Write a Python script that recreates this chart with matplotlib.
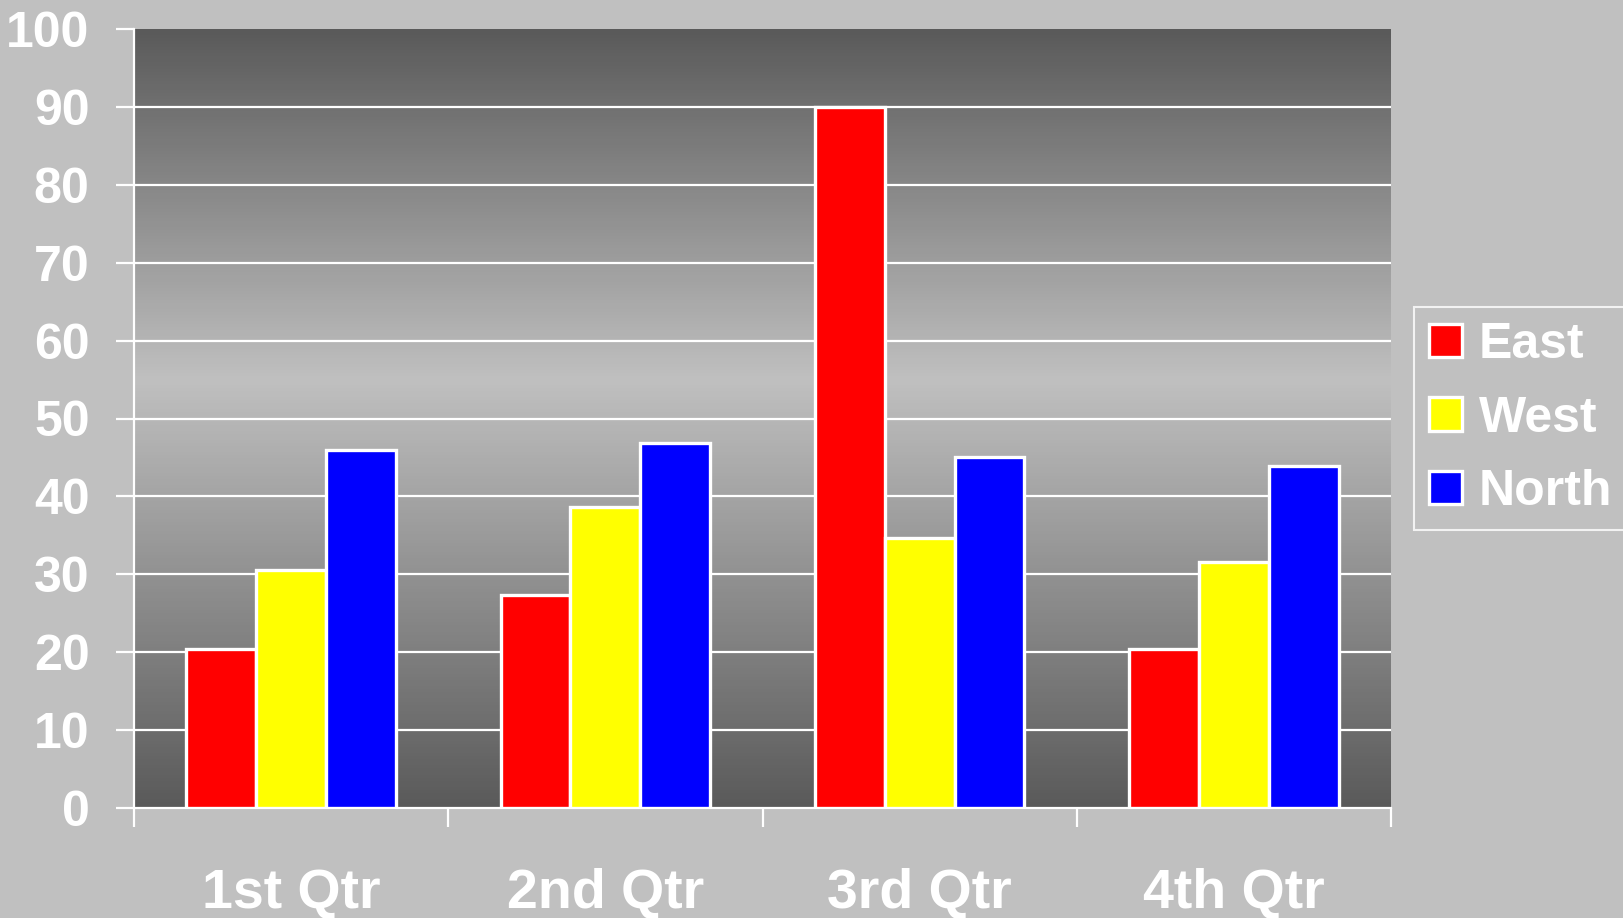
import numpy as np
import matplotlib
matplotlib.use('Agg')
import matplotlib.pyplot as plt
from matplotlib.colors import LinearSegmentedColormap

quarters = ['1st Qtr', '2nd Qtr', '3rd Qtr', '4th Qtr']
east = [20.4, 27.4, 90, 20.4]
west = [30.6, 38.6, 34.6, 31.6]
north = [45.9, 46.9, 45, 43.9]
series_names = ['East', 'West', 'North']
series_colors = ['#ff0000', '#ffff00', '#0000ff']

plt.rcParams['font.family'] = ['Liberation Sans', 'DejaVu Sans']
plt.rcParams['font.weight'] = 'bold'

fig = plt.figure(figsize=(16.23, 9.18), dpi=100)
fig.patch.set_facecolor('#c0c0c0')
ax = fig.add_axes([134/1623, 1 - 808/918, (1391 - 134)/1623, (808 - 29)/918])

# gradient backdrop: dark at top and bottom, light in the middle
cmap = LinearSegmentedColormap.from_list('bg', [(0, '#5a5a5a'), (0.55, '#c0c0c0'), (1, '#5a5a5a')])
grad = np.linspace(0, 1, 256).reshape(-1, 1)
ax.imshow(grad, cmap=cmap, aspect='auto', extent=[0, 4, 0, 100], origin='lower', zorder=0)

# white grid lines
for g in range(10, 100, 10):
    ax.axhline(g, color='white', lw=1.6, zorder=1)

x = np.arange(len(quarters)) + 0.5
w = 1 / 4.5
for i, (vals, name, col) in enumerate(zip([east, west, north], series_names, series_colors)):
    ax.bar(x + (i - 1) * w, vals, width=w, color=col, edgecolor='white', linewidth=2.4,
           label=name, zorder=3)

ax.set_xlim(0, 4)
ax.set_ylim(0, 100)
ax.set_yticks(range(0, 101, 10))
ax.set_xticks(x)
ax.set_xticklabels(quarters)
ax.set_xticks(np.arange(0, 5), minor=True)
ax.tick_params(axis='x', which='major', length=0, pad=43, labelsize=40, labelcolor='white')
ax.tick_params(axis='x', which='minor', length=14, width=1.6, color='white', direction='out')
ax.tick_params(axis='y', length=13, width=1.6, color='white', pad=19, labelsize=36, labelcolor='white')

for s in ['top', 'right']:
    ax.spines[s].set_visible(False)
for s in ['left', 'bottom']:
    ax.spines[s].set_color('white')
    ax.spines[s].set_linewidth(1.6)

leg = fig.legend(loc='upper left', bbox_to_anchor=(1414/1623, 1 - 307/918), fontsize=36,
                 frameon=True, fancybox=False, handlelength=0.65, handleheight=0.65,
                 handletextpad=0.35, borderpad=0.3, labelspacing=0.55, borderaxespad=0)
leg.get_frame().set_facecolor('#c0c0c0')
leg.get_frame().set_edgecolor('white')
leg.get_frame().set_linewidth(1.5)
for t in leg.get_texts():
    t.set_color('white')

fig.savefig('out.png', dpi=100, facecolor=fig.get_facecolor())
